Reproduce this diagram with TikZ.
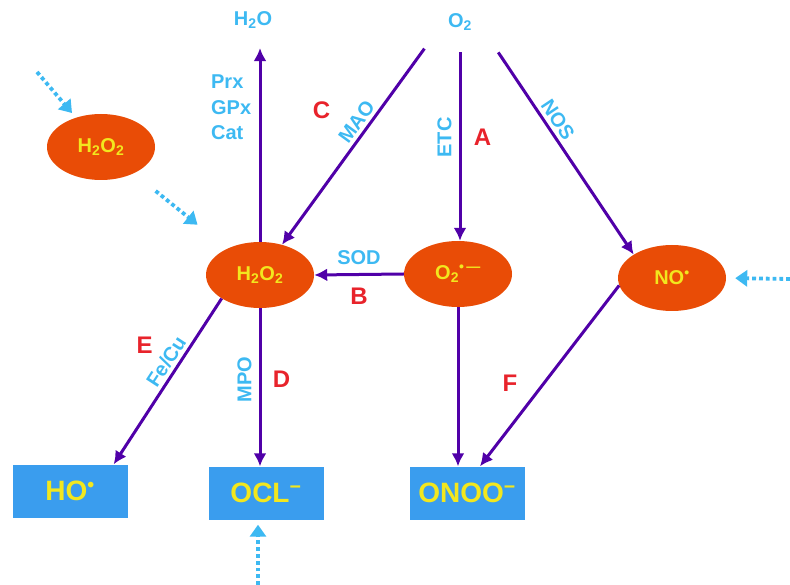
\documentclass[tikz,border=0pt]{standalone}
\usepackage{fontspec}
\setmainfont{Liberation Sans}
\usepackage{xcolor}
\usepackage{tikz}
\usetikzlibrary{positioning, arrows.meta, shapes.geometric}
\definecolor{rosorange}{HTML}{E94C06}
\definecolor{rosyellow}{HTML}{F2E71E}
\definecolor{enzblue}{HTML}{3DB9F2}
\definecolor{boxblue}{HTML}{3A9DEE}
\definecolor{pathpurple}{HTML}{5000A8}
\definecolor{stepred}{HTML}{E8232B}

\begin{document}
\begin{tikzpicture}[x=1pt, y=-1pt,
  species/.style={ellipse, fill=rosorange, text=rosyellow, minimum width=108pt,
                  minimum height=66pt, font=\fontsize{20}{22}\selectfont\bfseries},
  product/.style={rectangle, fill=boxblue, text=rosyellow, minimum width=115pt,
                  minimum height=53pt, font=\fontsize{28}{30}\selectfont\bfseries},
  molecule/.style={text=enzblue, font=\fontsize{20}{22}\selectfont\bfseries},
  enzyme/.style={text=enzblue, font=\fontsize{20}{25.5}\selectfont\bfseries},
  steplbl/.style={text=stepred, font=\fontsize{24}{26}\selectfont\bfseries},
  reaction/.style={draw=pathpurple, line width=3pt, -{Latex[length=13pt, width=13pt]}},
  influx/.style={draw=enzblue, line width=3.8pt, dash pattern=on 3.8pt off 3pt,
                 -{Triangle[length=12pt, width=16pt]}}]
  \useasboundingbox (0,0) rectangle (790,585);

  % species
  \node[molecule] (h2o) at (253,20) {H\textsubscript{2}O};
  \node[molecule] (o2) at (460,22) {O\textsubscript{2}};
  \node[species] (h2o2x) at (101,147) {H\textsubscript{2}O\textsubscript{2}};
  \node[species] (h2o2) at (260,275) {H\textsubscript{2}O\textsubscript{2}};
  \node[species] (o2r) at (458,274) {O\textsubscript{2}\textsuperscript{\textbullet\,—}};
  \node[species] (no) at (672,278) {NO\textsuperscript{\textbullet}};
  \node[product] (ho) at (70,491) {HO\textsuperscript{\textbullet}};
  \node[product] (ocl) at (266,493) {OCL\textsuperscript{−}};
  \node[product] (onoo) at (467,493) {ONOO\textsuperscript{−}};

  % reactions
  \draw[reaction, shorten >=16pt] (h2o2.north) -- (h2o2.north |- h2o.south)
    node[enzyme, pos=0.64, left=4pt, align=left] {Prx\\GPx\\Cat};
  \draw[reaction, shorten <=18pt] ([xshift=-25pt]o2.south) -- (h2o2)
    node[enzyme, pos=0.45, sloped, above] {MAO}
    node[steplbl, pos=0.36, left=45pt] {C};
  \draw[reaction, shorten <=18pt] (o2.south) -- (o2.south |- o2r.north)
    node[enzyme, pos=0.5, rotate=90, anchor=south, inner ysep=7pt] {ETC}
    node[steplbl, pos=0.5, right=9pt] {A};
  \draw[reaction, shorten <=22pt] ([xshift=26pt]o2.south) -- (no.north west)
    node[enzyme, pos=0.42, sloped, above] {NOS};
  \draw[reaction] (o2r.west) -- (h2o2.east)
    node[enzyme, midway, above=5pt] {SOD}
    node[steplbl, midway, below=9pt] {B};
  \draw[reaction] (h2o2.south west) -- ([xshift=-14pt]ho.north east)
    node[enzyme, pos=0.42, sloped, above] {Fe/Cu}
    node[steplbl, pos=0.28, left=34pt] {E};
  \draw[reaction] (h2o2.south) -- (h2o2.south |- ocl.north)
    node[enzyme, pos=0.45, rotate=90, anchor=south, inner ysep=7pt] {MPO}
    node[steplbl, pos=0.45, right=8pt] {D};
  \draw[reaction] (o2r.south) -- (o2r.south |- onoo.north);
  \draw[reaction] (no.188) -- ([xshift=13pt]onoo.north)
    node[steplbl, pos=0.54, left=22pt] {F};

  % sources from outside
  \coordinate (srcA) at (37,72);
  \coordinate (srcN) at (790,279);
  \coordinate (srcO) at (258,585);
  \draw[influx, shorten >=6pt] (srcA) -- (h2o2x);
  \draw[influx, shorten <=28pt, shorten >=38pt] (h2o2x) -- (h2o2);
  \draw[influx, shorten >=9pt] (srcN) -- (no.east);
  \draw[influx, shorten >=5pt] (srcO) -- (srcO |- ocl.south);
\end{tikzpicture}
\end{document}
